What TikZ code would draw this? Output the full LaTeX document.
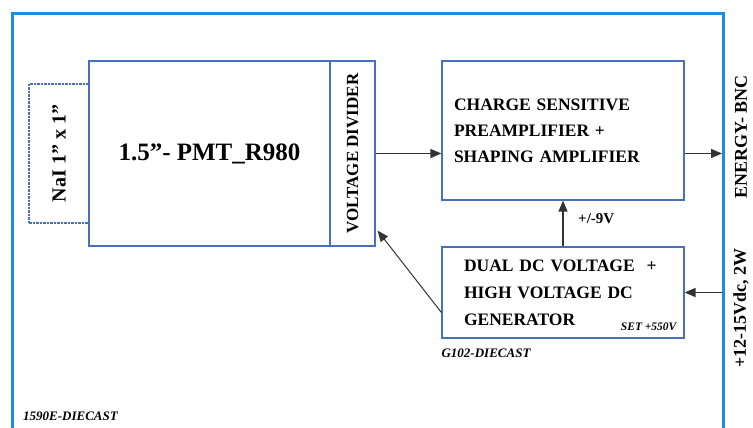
\documentclass[tikz,border=0pt]{standalone}
\usepackage{fontspec}
\setmainfont{Liberation Serif}
\usetikzlibrary{arrows.meta}
\definecolor{boxblue}{RGB}{72,112,190}
\definecolor{caseblue}{RGB}{30,140,222}
\tikzset{block/.style={draw=boxblue,line width=1.2pt,inner sep=0pt,font=\bfseries},
         sig/.style={-{Triangle[length=11pt,width=9pt]},line width=1.4pt,draw=black!80},
         tag/.style={font=\bfseries\itshape\fontsize{13}{13}\selectfont,inner sep=0pt},
        }

\begin{document}
\begin{tikzpicture}[x=1pt,y=-1pt]
        \useasboundingbox (0,0) rectangle (753,428);
        \clip (0,0) rectangle (753,428);
        \draw[caseblue,line width=3pt](12,14) rectangle (723,450);

        \node[block,dash pattern=on 2.5pt off 1pt,minimum width=60pt,minimum height=139pt,font=\bfseries\fontsize{20}{20}\selectfont](nai)at(59,153.5){\rotatebox{90}{NaI 1” x 1”}};
        \node[block,minimum width=241pt,minimum height=185pt,font=\bfseries\fontsize{25}{25}\selectfont](pmt)at(209.5,153.5){1.5”- PMT\_R980};
        \node[block,minimum width=45pt,minimum height=185pt,font=\bfseries\fontsize{17}{17}\selectfont](divider)at(352.5,153.5){\rotatebox{90}{VOLTAGE DIVIDER}};
        \node[block,minimum height=139pt,text width=218pt,inner xsep=12pt,align=left,font=\bfseries\fontsize{17.5}{26}\selectfont](charge)at(563,130.5){CHARGE SENSITIVE\\PREAMPLIFIER +\\SHAPING AMPLIFIER};
        \node[block,minimum height=91pt,text width=198pt,inner xsep=22pt,align=left,font=\bfseries\fontsize{17.5}{27}\selectfont](dcgen)at(563,292.5){DUAL DC VOLTAGE\hspace{6pt} +\\HIGH VOLTAGE DC\\GENERATOR};

        \node[tag,anchor=east,font=\bfseries\itshape\fontsize{11.5}{11.5}\selectfont](hvset)at([xshift=-8pt,yshift=12pt]dcgen.south east){SET +550V};
        \node[tag,anchor=west](g102)at([yshift=-15pt]dcgen.south west){G102-DIECAST};
        \node[tag,anchor=west](case)at(23,416){1590E-DIECAST};
        \node[anchor=west,inner sep=0pt,font=\bfseries\fontsize{15}{15}\selectfont](lowv)at([xshift=15pt,yshift=28pt]dcgen.north){+/-9V};

        \node[rotate=90,inner sep=0pt,font=\bfseries\fontsize{18}{18}\selectfont](bnclabel)at(741,137){ENERGY- BNC};
        \node[rotate=90,inner sep=0pt,font=\bfseries\fontsize{18}{18}\selectfont](supply)at(741,308){+12-15Vdc, 2W};

        \coordinate(bnc)at(722,153.5);
        \coordinate(vin)at(722,292.5);

        \draw[sig](divider.east)--(divider.east -| charge.west);
        \draw[sig](charge.east |- bnc)--(bnc);
        \draw[sig](vin)--(dcgen.east);
        \draw[sig](dcgen.north)--(charge.south);
        \draw[sig,line width=1pt]([yshift=-20pt]dcgen.west)--([xshift=2pt,yshift=16pt]divider.south east);
\end{tikzpicture}
\end{document}
